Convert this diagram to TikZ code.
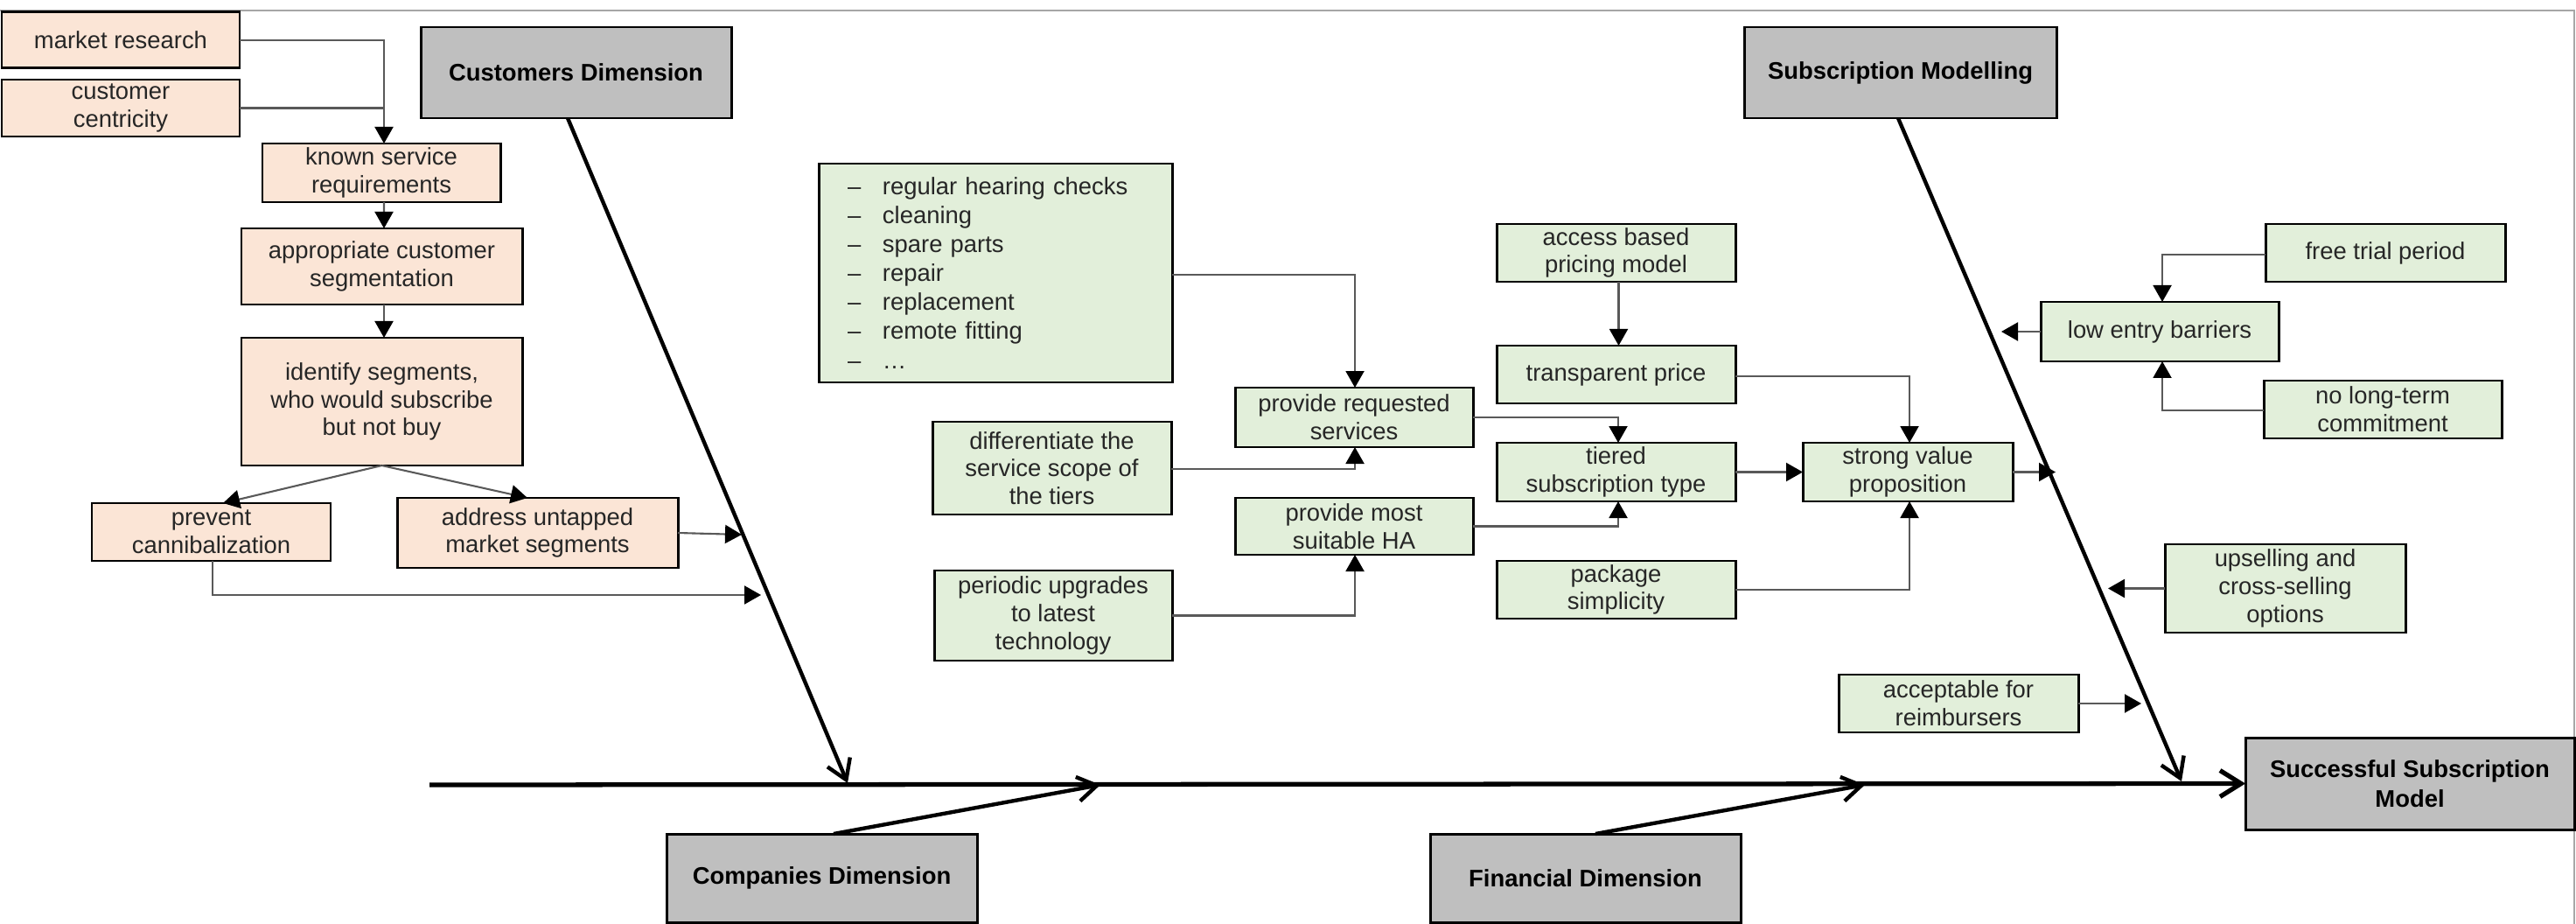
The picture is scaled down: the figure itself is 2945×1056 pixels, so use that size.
\documentclass[tikz,border=0pt]{standalone}
\usepackage{fontspec}
\setmainfont{Liberation Sans}
\usetikzlibrary{arrows.meta,calc}
\definecolor{peach}{HTML}{FBE5D6}
\definecolor{lgreen}{HTML}{E2EFDA}
\definecolor{dimgray}{HTML}{BFBFBF}
\definecolor{connc}{HTML}{595959}
\definecolor{framec}{HTML}{A6A6A6}
\definecolor{txtc}{HTML}{262626}
\begin{document}
\begin{tikzpicture}[x=0.1mm,y=-0.1mm,
 every node/.style={font=\fontsize{7.8}{9}\selectfont, inner sep=0pt, outer sep=0pt, align=center, text=txtc},
 base/.style={draw=black, line width=0.85pt, rectangle},
 pbox/.style={base, fill=peach},
 gbox/.style={base, fill=lgreen},
 dbox/.style={base, fill=dimgray, text=black, font=\fontsize{7.8}{9.6}\selectfont\bfseries},
 conn/.style={draw=connc, line width=0.6pt, -{Triangle[length=1.9mm,width=2.1mm,color=black]}},
 plainc/.style={draw=connc, line width=0.6pt},
 bone/.style={draw=black, line width=1.25pt, -{Straight Barb[length=2.2mm,width=2.8mm]}},
 spineline/.style={draw=black, line width=1.5pt, -{Straight Barb[length=2.4mm,width=3mm]}},
]
\useasboundingbox (0,0) rectangle (2945,1056);
\draw[framec, line width=0.6pt] (0,12) -- (2943,12) -- (2943,1056);

% peach boxes
\node[pbox, minimum width=27.2mm, minimum height=6.4mm] (mr) at (138,46) {market research};
\node[pbox, minimum width=27.2mm, minimum height=6.5mm] (cc) at (138,123.5) {customer\\centricity};
\node[pbox, minimum width=27.2mm, minimum height=6.7mm] (ksr) at (436,197.5) {known service\\requirements};
\node[pbox, minimum width=32.1mm, minimum height=8.7mm] (acs) at (436.5,304.5) {appropriate customer\\segmentation};
\node[pbox, minimum width=32.1mm, minimum height=14.6mm] (iss) at (436.5,459) {identify segments,\\who would subscribe\\but not buy};
\node[pbox, minimum width=27.3mm, minimum height=6.6mm] (pc) at (241.5,608) {prevent\\cannibalization};
\node[pbox, minimum width=32.1mm, minimum height=8.0mm] (aums) at (614.5,609) {address untapped\\market segments};

% dimension boxes
\node[dbox, minimum width=35.5mm, minimum height=10.4mm] (custdim) at (658.5,83) {Customers Dimension};
\node[dbox, minimum width=35.7mm, minimum height=10.4mm] (subsmod) at (2172.5,83) {Subscription Modelling};
\node[dbox, minimum width=35.5mm, minimum height=10.1mm] (compdim) at (939.5,1003.5) {Companies Dimension};
\node[dbox, minimum width=35.5mm, minimum height=10.1mm] (findim) at (1812.5,1003.5) {Financial Dimension};
\node[dbox, minimum width=37.6mm, minimum height=10.5mm] (success) at (2755,895.5) {Successful Subscription\\Model};

% green boxes
\node[gbox, minimum width=40.4mm, minimum height=25.0mm, text width=33.8mm, align=left,
      font=\fontsize{7.8}{9.4}\selectfont] (list) at (1138,312)
 {\makebox[4mm][l]{–}regular hearing checks\\
  \makebox[4mm][l]{–}cleaning\\
  \makebox[4mm][l]{–}spare parts\\
  \makebox[4mm][l]{–}repair\\
  \makebox[4mm][l]{–}replacement\\
  \makebox[4mm][l]{–}remote fitting\\
  \makebox[4mm][l]{–}…};
\node[gbox, minimum width=27.2mm, minimum height=6.8mm] (prs) at (1548,477) {provide requested\\services};
\node[gbox, minimum width=27.3mm, minimum height=10.6mm] (diff) at (1202.5,535) {differentiate the\\service scope of\\the tiers};
\node[gbox, minimum width=27.2mm, minimum height=6.5mm] (ha) at (1548,601.5) {provide most\\suitable HA};
\node[gbox, minimum width=27.2mm, minimum height=10.3mm] (per) at (1204,703.5) {periodic upgrades\\to latest\\technology};
\node[gbox, minimum width=27.3mm, minimum height=6.6mm] (abpm) at (1847.5,289) {access based\\pricing model};
\node[gbox, minimum width=27.3mm, minimum height=6.6mm] (tp) at (1847.5,428) {transparent price};
\node[gbox, minimum width=27.3mm, minimum height=6.7mm] (tst) at (1847.5,539.5) {tiered\\subscription type};
\node[gbox, minimum width=27.3mm, minimum height=6.6mm] (ps) at (1847.5,674) {package\\simplicity};
\node[gbox, minimum width=24.0mm, minimum height=6.7mm] (svp) at (2181,539.5) {strong value\\proposition};
\node[gbox, minimum width=27.4mm, minimum height=6.6mm] (ftp) at (2727,289) {free trial period};
\node[gbox, minimum width=27.2mm, minimum height=6.8mm] (leb) at (2469,379) {low entry barriers};
\node[gbox, minimum width=27.2mm, minimum height=6.6mm] (nltc) at (2724,468) {no long-term\\commitment};
\node[gbox, minimum width=27.5mm, minimum height=10.1mm] (ucs) at (2612.5,672.5) {upselling and\\cross-selling\\options};
\node[gbox, minimum width=27.4mm, minimum height=6.6mm] (afr) at (2239,804) {acceptable for\\reimbursers};

% spine coordinates
\coordinate (sp0) at (491,897);
\coordinate (spC) at (969,895);
\coordinate (spCo) at (1258,897);
\coordinate (spF) at (2132,897);
\coordinate (spS) at (2494,893);
\coordinate (tAU) at (848,611);
\coordinate (tPC) at (870,680);
\coordinate (tSV) at (2350,539.5);
\coordinate (tLE) at (2288,379);
\coordinate (tUC) at (2410,672.5);
\coordinate (tAF) at (2448,804);

% fishbone
\draw[spineline] (sp0) -- (success.west);
\draw[bone] ([xshift=-0.95mm]custdim.south) -- (spC);
\draw[bone] ([xshift=-0.25mm]subsmod.south) -- (spS);
\draw[bone] ([xshift=1.35mm]compdim.north) -- (spCo);
\draw[bone] ([xshift=1.15mm]findim.north) -- (spF);

% peach connectors
\draw[plainc] (mr.east) -| ([xshift=0.3mm]ksr.north);
\draw[conn] (cc.east) -| ([xshift=0.3mm]ksr.north);
\draw[conn] ([xshift=0.3mm]ksr.south) -- ([xshift=0.25mm]acs.north);
\draw[conn] ([xshift=0.25mm]acs.south) -- ([xshift=0.25mm]iss.north);
\draw[conn] (iss.south) -- ([xshift=1.35mm]pc.north);
\draw[conn] (iss.south) -- ([xshift=-1.15mm]aums.north);
\draw[conn] (aums.east) -- (tAU);
\draw[conn] ([xshift=0.15mm]pc.south) |- (tPC);

% green connectors
\draw[conn] ([yshift=-0.2mm]list.east) -| ([xshift=0.1mm]prs.north);
\draw[conn] ([yshift=-0.1mm]diff.east) -| ([xshift=0.1mm]prs.south);
\draw[conn] (per.east) -| ([xshift=0.1mm]ha.south);
\draw[conn] (prs.east) -| ([xshift=0.25mm]tst.north);
\draw[conn] (ha.east) -| ([xshift=0.25mm]tst.south);
\draw[conn] ([xshift=0.3mm]abpm.south) -- ([xshift=0.3mm]tp.north);
\draw[conn] ([yshift=-0.2mm]tp.east) -| ([xshift=0.2mm]svp.north);
\draw[conn] (tst.east) -- (svp.west);
\draw[conn] (ps.east) -| ([xshift=0.2mm]svp.south);
\draw[conn] (svp.east) -- (tSV);
\draw[conn] ([yshift=-0.2mm]ftp.west) -| ([xshift=0.3mm]leb.north);
\draw[conn] ([yshift=-0.1mm]nltc.west) -| ([xshift=0.3mm]leb.south);
\draw[conn] (leb.west) -- (tLE);
\draw[conn] (ucs.west) -- (tUC);
\draw[conn] (afr.east) -- (tAF);
\end{tikzpicture}
\end{document}
